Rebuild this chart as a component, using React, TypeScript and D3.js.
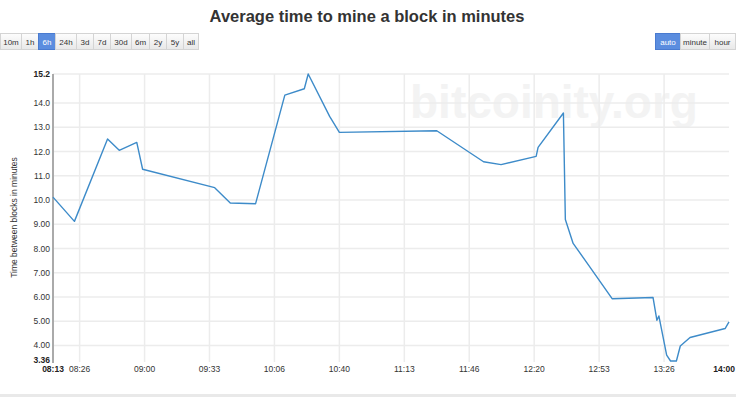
import { useEffect } from "react";
import * as d3 from "d3";

// block time samples (HH:MM, minutes between blocks)
const times = [
  "08:13", "08:24", "08:41", "08:47", "08:56", "08:59", "09:36", "09:44", "09:57",
  "10:12", "10:22", "10:24", "10:35", "10:40", "11:30", "11:54", "12:03", "12:21",
  "12:22", "12:35", "12:36", "12:40", "12:47", "13:00", "13:21", "13:23", "13:24",
  "13:28", "13:30", "13:33", "13:35", "13:40", "13:58", "14:00",
];
const values = [
  10.12, 9.12, 12.52, 12.05, 12.38, 11.27, 10.51, 9.88, 9.85,
  14.33, 14.59, 15.2, 13.45, 12.79, 12.86, 11.58, 11.46, 11.8,
  12.17, 13.59, 9.2, 8.21, 7.42, 5.93, 5.98, 5.04, 5.22,
  3.6, 3.36, 3.36, 3.98, 4.33, 4.7, 4.97,
];

const xTicks = [
  "08:26:40", "09:00:00", "09:33:20", "10:06:40", "10:40:00",
  "11:13:20", "11:46:40", "12:20:00", "12:53:20", "13:26:40",
];
const yTicks = [14, 13, 12, 11, 10, 9, 8, 7, 6, 5, 4];

const rangeButtons = ["10m", "1h", "6h", "24h", "3d", "7d", "30d", "6m", "2y", "5y", "all"];
const rangeActive = "6h";
const unitButtons = ["auto", "minute", "hour"];
const unitActive = "auto";

const W = 736;
const H = 397;
const margin = { left: 53, right: 7, top: 74, bottom: 36 };
const FONT = "'Liberation Sans', Arial, sans-serif";

const parseHM = d3.timeParse("%H:%M");
const parseHMS = d3.timeParse("%H:%M:%S");
const fmtHM = d3.timeFormat("%H:%M");
const fmtY = d3.format(".3r");

const rangeWidths = [21, 17, 17, 21, 17, 17, 21, 18, 17, 17, 15];
const unitWidths = [25, 29, 26];

function ButtonGroup({ labels, widths, active, x0 }: { labels: string[]; widths: number[]; active: string; x0: number }) {
  let x = x0;
  return (
    <g>
      {labels.map((l, i) => {
        const bx = x;
        x += widths[i];
        const on = l === active;
        return (
          <g key={l}>
            <rect x={bx + 0.5} y={33.5} width={widths[i]} height={16}
              fill={on ? "#5b8ddf" : "url(#btnGrad)"} stroke={on ? "#4a7bd0" : "#d4d4d4"} strokeWidth={1} />
            <text x={bx + widths[i] / 2 + 0.5} y={44.5} textAnchor="middle" fontSize={8}
              fontFamily={FONT} fill={on ? "#fff" : "#333"}>{l}</text>
          </g>
        );
      })}
    </g>
  );
}

export default function App() {
  useEffect(() => {
    document.body.style.margin = "0";
  }, []);

  const data = times.map((t, i) => ({ t: parseHM(t) as Date, v: values[i] }));
  const x = d3
    .scaleTime()
    .domain(d3.extent(data, (d) => d.t) as [Date, Date])
    .range([margin.left, W - margin.right]);
  const y = d3
    .scaleLinear()
    .domain(d3.extent(data, (d) => d.v) as [number, number])
    .range([H - margin.bottom, margin.top]);

  const line = d3
    .line<{ t: Date; v: number }>()
    .x((d) => x(d.t))
    .y((d) => y(d.v));

  const [y0, y1] = y.domain();
  const [t0, t1] = x.domain();
  const xt = xTicks.map((s) => parseHMS(s) as Date);

  const unitX = W - unitWidths.reduce((a, b) => a + b, 0) - 1;

  return (
    <svg width={W} height={H} style={{ display: "block", background: "#fff" }}>
      <defs>
        <linearGradient id="btnGrad" x1="0" y1="0" x2="0" y2="1">
          <stop offset="0" stopColor="#fdfdfd" />
          <stop offset="1" stopColor="#e8e8e8" />
        </linearGradient>
      </defs>

      <text x={367} y={22} textAnchor="middle" fontSize={16.5} fontWeight="bold"
        fontFamily={FONT} fill="#333">Average time to mine a block in minutes</text>

      <ButtonGroup labels={rangeButtons} widths={rangeWidths} active={rangeActive} x0={0} />
      <ButtonGroup labels={unitButtons} widths={unitWidths} active={unitActive} x0={unitX} />

      {/* watermark */}
      <text x={410} y={118} fontSize={46} fontWeight="bold" fontFamily={FONT} fill="#f3f3f3">bitcoinity.org</text>

      {/* grid */}
      {yTicks.map((v) => (
        <line key={"gy" + v} x1={margin.left} x2={W - margin.right} y1={y(v)} y2={y(v)}
          stroke="#ececec" strokeWidth={1.5} />
      ))}
      <line x1={margin.left} x2={W - margin.right} y1={y(y1)} y2={y(y1)} stroke="#ececec" strokeWidth={1.5} />
      {xt.map((t, i) => (
        <line key={"gx" + i} x1={x(t)} x2={x(t)} y1={margin.top} y2={H - margin.bottom + 1}
          stroke="#ececec" strokeWidth={1.5} />
      ))}

      {/* y axis */}
      <line x1={margin.left} x2={margin.left} y1={margin.top} y2={H - margin.bottom + 2}
        stroke="#aaa" strokeWidth={2} />
      {yTicks.map((v) => (
        <text key={"ly" + v} x={margin.left - 3} y={y(v) + 3} textAnchor="end" fontSize={8.5}
          fontFamily={FONT} fill="#333">{fmtY(v)}</text>
      ))}
      <text x={margin.left - 3} y={y(y1) + 3} textAnchor="end" fontSize={8.5} fontWeight="bold"
        fontFamily={FONT} fill="#222">{fmtY(y1)}</text>
      <text x={margin.left - 3} y={y(y0) + 2} textAnchor="end" fontSize={8.5} fontWeight="bold"
        fontFamily={FONT} fill="#222">{fmtY(y0)}</text>
      <text transform={`translate(17,${(margin.top + H - margin.bottom) / 2}) rotate(-90)`}
        textAnchor="middle" fontSize={8.5} fontFamily={FONT} fill="#333">Time between blocks in minutes</text>

      {/* x labels */}
      {xt.map((t, i) => (
        <text key={"lx" + i} x={x(t)} y={372} textAnchor="middle" fontSize={8.5}
          fontFamily={FONT} fill="#333">{fmtHM(t)}</text>
      ))}
      <text x={x(t0)} y={372} textAnchor="middle" fontSize={8.5} fontWeight="bold"
        fontFamily={FONT} fill="#222">{fmtHM(t0)}</text>
      <text x={W - 1} y={372} textAnchor="end" fontSize={8.5} fontWeight="bold"
        fontFamily={FONT} fill="#222">{fmtHM(t1)}</text>

      {/* series */}
      <path d={line(data) ?? ""} fill="none" stroke="#3d8bc9" strokeWidth={1.4} strokeLinejoin="round" />

      {/* bottom bar */}
      <rect x={0} y={394} width={W} height={3} fill="#e9e9e9" />
    </svg>
  );
}
